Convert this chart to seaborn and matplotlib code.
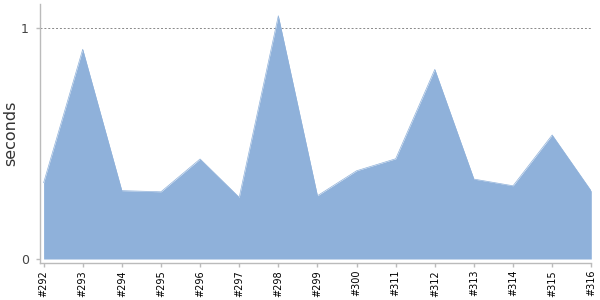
import matplotlib
matplotlib.use("Agg")
import matplotlib.pyplot as plt
import seaborn as sns
import pandas as pd

builds = ["#292", "#293", "#294", "#295", "#296", "#297", "#298", "#299",
          "#300", "#311", "#312", "#313", "#314", "#315", "#316"]
seconds = [0.33, 0.908, 0.296, 0.291, 0.433, 0.267, 1.053, 0.274,
           0.382, 0.434, 0.821, 0.346, 0.317, 0.537, 0.294]

df = pd.DataFrame({"pos": range(len(builds)), "seconds": seconds})

sns.set_style("white")
plt.rcParams['font.family'] = ['DejaVu Sans']

fig = plt.figure(figsize=(6, 3), dpi=100)
ax = fig.add_axes([40 / 600, 37 / 300, (591.3 - 40) / 600, (263 - 4) / 300])

fill_color = "#8fb1da"
ax.fill_between(df["pos"], 0, df["seconds"], color=fill_color, linewidth=0, zorder=2)
sns.lineplot(data=df, x="pos", y="seconds", ax=ax, color=fill_color, linewidth=0.5, zorder=3)

ax.set_xlim(-0.092, len(builds) - 1)
ax.set_ylim(-0.0173, 1.104)

ax.set_xticks(range(len(builds)))
ax.set_xticklabels(builds, rotation=90, fontsize=7, color="black")
ax.set_yticks([0, 1])
ax.set_yticklabels(["0", "1"], fontsize=9, color="#444444")

ax.axhline(1, color="#888888", linestyle=(0, (2, 2)), linewidth=0.7, zorder=1)

ax.tick_params(axis="x", length=3, width=1, color="#bbbbbb", pad=2, bottom=True)
ax.tick_params(axis="y", length=3, width=1, color="#bbbbbb", pad=5, left=True)

for s in ["top", "right"]:
    ax.spines[s].set_visible(False)
for s in ["left", "bottom"]:
    ax.spines[s].set_color("#bbbbbb")
    ax.spines[s].set_linewidth(1)

ax.set_xlabel("")
ax.set_ylabel("seconds", fontsize=11.5, color="#333333")
ax.yaxis.set_label_coords(-0.039, 0.5)

fig.savefig("out.png", dpi=100)
